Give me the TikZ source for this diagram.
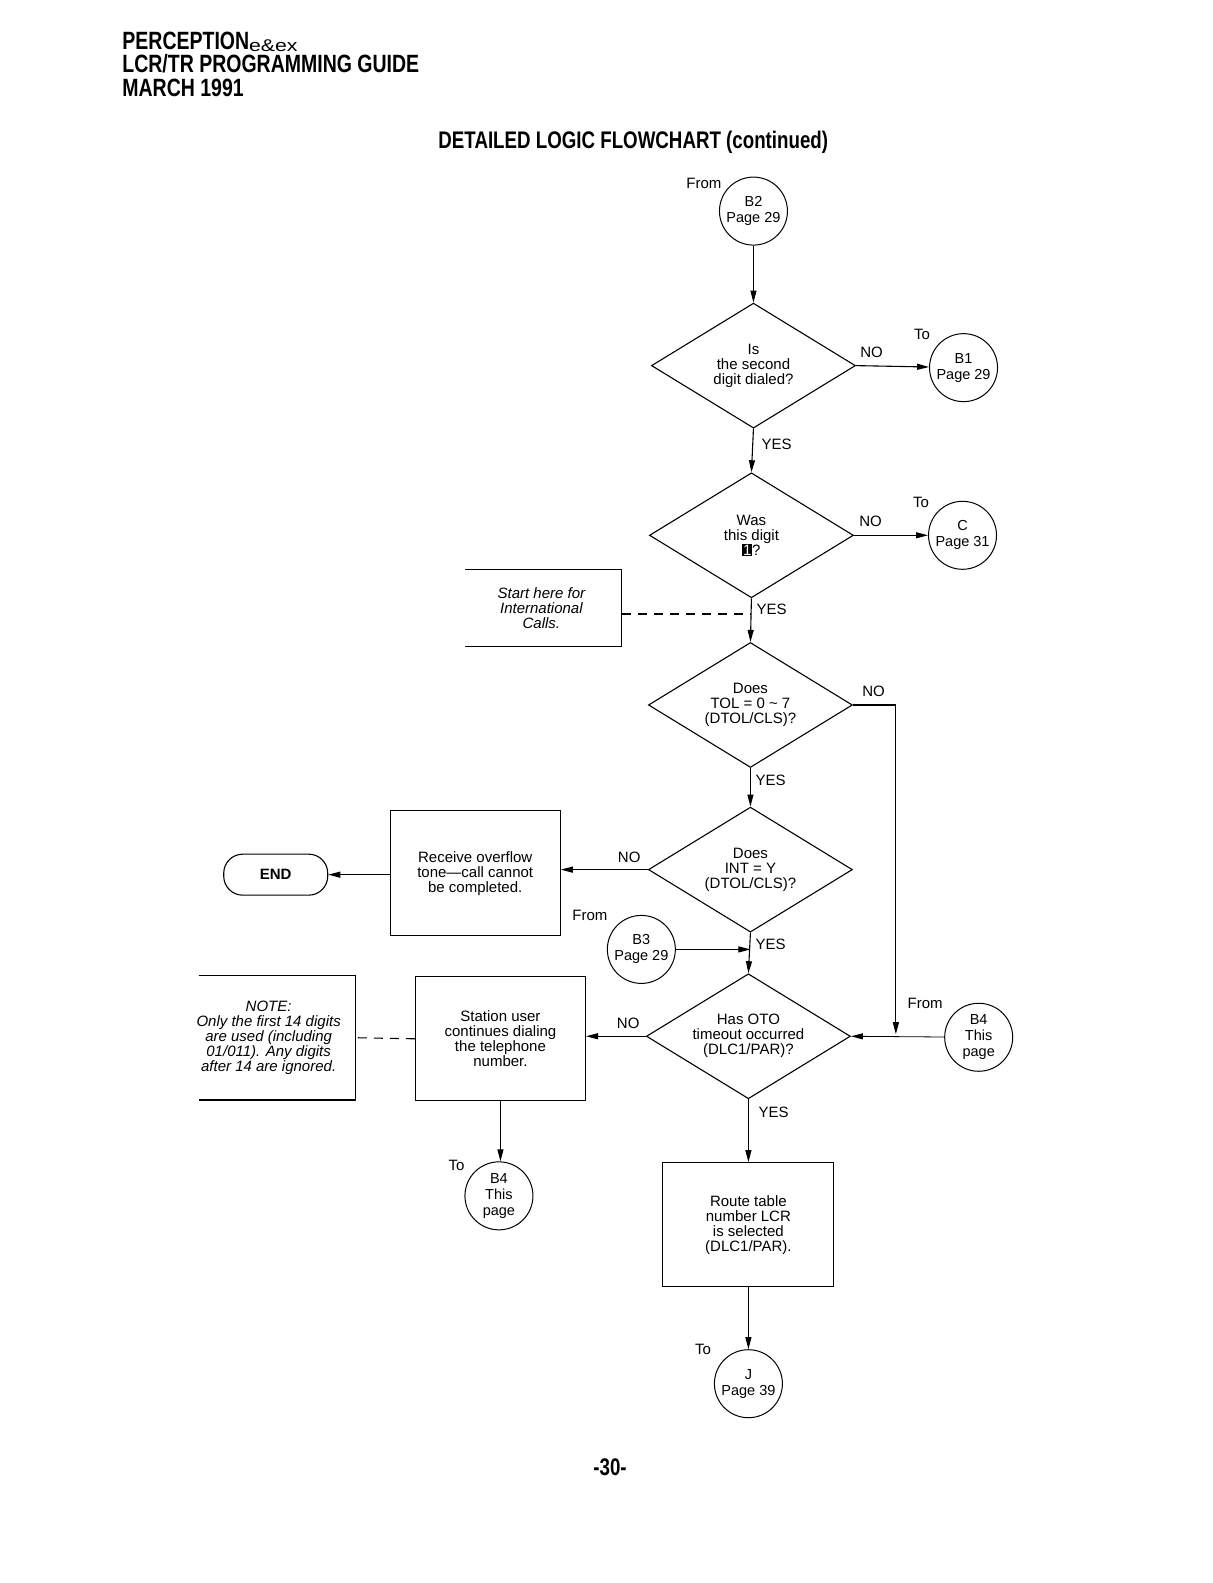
\documentclass[tikz,border=0pt]{standalone}
\usepackage{fontspec}
\setmainfont{Liberation Sans}
\newfontfamily\hdr[FakeStretch=0.78]{Liberation Sans Bold}
\newfontfamily\subfont[FakeStretch=1.25]{Liberation Sans}
\usetikzlibrary{shapes.geometric,arrows.meta}
\newcommand\onebox{{\fboxsep=0.7pt\colorbox{black}{\textcolor{white}{1}}}}
\begin{document}
\begin{tikzpicture}[x=1.01pt,y=-1.01pt,
  every node/.style={font=\fontsize{15}{15}\selectfont, inner sep=0pt},
  dec/.style={draw, diamond, shape aspect=1.63, minimum width=204pt, minimum height=125pt, align=center, line width=1.1pt},
  conn/.style={draw, circle, minimum size=68pt, align=center, line width=1pt, font=\fontsize{14.5}{16}\selectfont},
  proc/.style={draw, rectangle, minimum width=170pt, minimum height=125pt, align=center, line width=1.1pt},
  note/.style={minimum width=157pt, minimum height=77pt, align=center, font=\fontsize{15}{15}\selectfont\itshape},
  lbl/.style={font=\fontsize{15}{15}\selectfont},
  flow/.style={line width=1.1pt, -{Triangle[length=12pt,width=6pt]}},
  dashln/.style={line width=1.1pt, dash pattern=on 9pt off 7pt},
  head/.style={anchor=base west, font=\hdr\fontsize{25}{25}\selectfont},
]
\fill[white] (0pt,0pt) rectangle (1213pt,-1583pt);
\useasboundingbox (0pt,0pt) rectangle (1213pt,-1583pt);

% header
\node[head] (h1) at (121,49) {PERCEPTION\raisebox{-2.5pt}{\subfont\fontsize{17}{17}\selectfont e\&ex}};
\node[head] (h2) at (121,72) {LCR/TR PROGRAMMING GUIDE};
\node[head] (h3) at (121,96) {MARCH 1991};
\node[anchor=base, font=\hdr\fontsize{24}{24}\selectfont] (title) at (627,147) {DETAILED LOGIC FLOWCHART (continued)};

% connectors and decisions
\node[conn] (b2) at (746,209) {B2\\Page 29};
\node[lbl] (fromb2) at (697,182) {From};

\node[dec] (d1) at (746,362) {Is\\the second\\digit dialed?};
\node[conn] (b1) at (954,364) {B1\\Page 29};
\node[lbl] (tob1) at (913,331) {To};
\node[lbl] (no1) at (863,349) {NO};
\node[lbl] (yes1) at (769,440) {YES};

\node[dec] (d2) at (744,530) {Was\\this digit\\\onebox?};
\node[conn] (c) at (953,530) {C\\Page 31};
\node[lbl] (toc) at (912,497) {To};
\node[lbl] (no2) at (862,516) {NO};
\node[lbl] (yes2) at (764,603) {YES};

\node[note] (start) at (536,602) {Start here for\\International\\Calls.};
\draw[line width=1.1pt] ([xshift=-76pt]start.north) -- ([xshift=80pt]start.north) -- ([xshift=80pt]start.south) -- ([xshift=-76pt]start.south);

\node[dec] (d3) at (743,698) {Does\\TOL = 0 \textasciitilde\ 7\\(DTOL/CLS)?};
\node[lbl] (no3) at (865,684) {NO};
\node[lbl] (yes3) at (763,773) {YES};

\node[dec] (d4) at (743,861) {Does\\INT = Y\\(DTOL/CLS)?};
\node[lbl] (no4) at (623,849) {NO};
\node[lbl] (yes4) at (763,935) {YES};

\node[proc] (recv) at (470.5,864.5) {Receive overflow\\tone---call cannot\\be completed.};
\node[draw, rounded corners=19pt, minimum width=104pt, minimum height=41pt, line width=1.1pt, font=\fontsize{15}{15}\selectfont\bfseries] (end) at (273,866) {END};

\node[conn] (b3) at (635,940) {B3\\Page 29};
\node[lbl] (fromb3) at (584,906) {From};

\node[dec] (d5) at (741,1026) {Has OTO\\timeout occurred\\(DLC1/PAR)?};
\node[lbl] (no5) at (622,1013) {NO};
\node[lbl] (yes5) at (766,1101) {YES};

\node[conn] (b4f) at (969,1027) {B4\\This\\page};
\node[lbl] (fromb4) at (916,993) {From};
\coordinate (jn) at (887,1024);

\node[proc, minimum height=124pt] (stat) at (495.5,1028.5) {Station user\\continues dialing\\the telephone\\number.};
\node[note, minimum height=124pt, minimum width=140pt] (note) at (266,1027.5) {NOTE:\\Only the first 14 digits\\are used (including\\01/011). Any digits\\after 14 are ignored.};
\draw[line width=1.1pt] ([xshift=-70pt]note.north) -- ([xshift=87pt]note.north) -- ([xshift=87pt]note.south) -- ([xshift=-70pt]note.south);
\coordinate (noteR) at ([xshift=87pt]note.east |- note.center);

\node[conn] (b4t) at (494,1184) {B4\\This\\page};
\node[lbl] (tob4) at (452,1154) {To};

\node[proc, minimum width=171pt, minimum height=124pt] (route) at (741,1212.5) {Route table\\number LCR\\is selected\\(DLC1/PAR).};
\node[conn] (j) at (741,1370) {J\\Page 39};
\node[lbl] (toj) at (696,1336) {To};

\node[anchor=base, font=\hdr\fontsize{24}{24}\selectfont] (pg) at (604,1461) {-30-};

% flow lines
\draw[flow] (b2) -- (d1);
\draw[flow] (d1.east) -- (b1);
\draw[flow] (d1.south) -- (d2.north);
\draw[flow] (d2.east) -- (c);
\draw[flow] (d2.south) -- (d3.north);
\draw[dashln] ([xshift=2pt,yshift=-6pt]start.east) -- ([yshift=-6pt]start.east -| d2.south);
\draw[flow] (d3.south) -- (d4.north);
\draw[flow] (d3.east) -| (jn);
\draw[flow] (d4.west) -- (recv.east |- d4.west);
\draw[flow] (recv.west |- end.east) -- (end.east);
\draw[flow] (b3) -- (b3 -| d4.south);
\draw[flow] (d4.south) -- (d5.north);
\draw[flow, line width=0.8pt] (b4f) -- (d5.east);
\draw[flow] (d5.west) -- (stat.east |- d5.west);
\draw[dashln] ([xshift=17pt]note.east) -- (stat.west);
\draw[flow] (stat.south) -- (stat.south |- b4t.north);
\draw[flow] (d5.south) -- (route.north);
\draw[flow] (route.south) -- (j.north);
\end{tikzpicture}
\end{document}
